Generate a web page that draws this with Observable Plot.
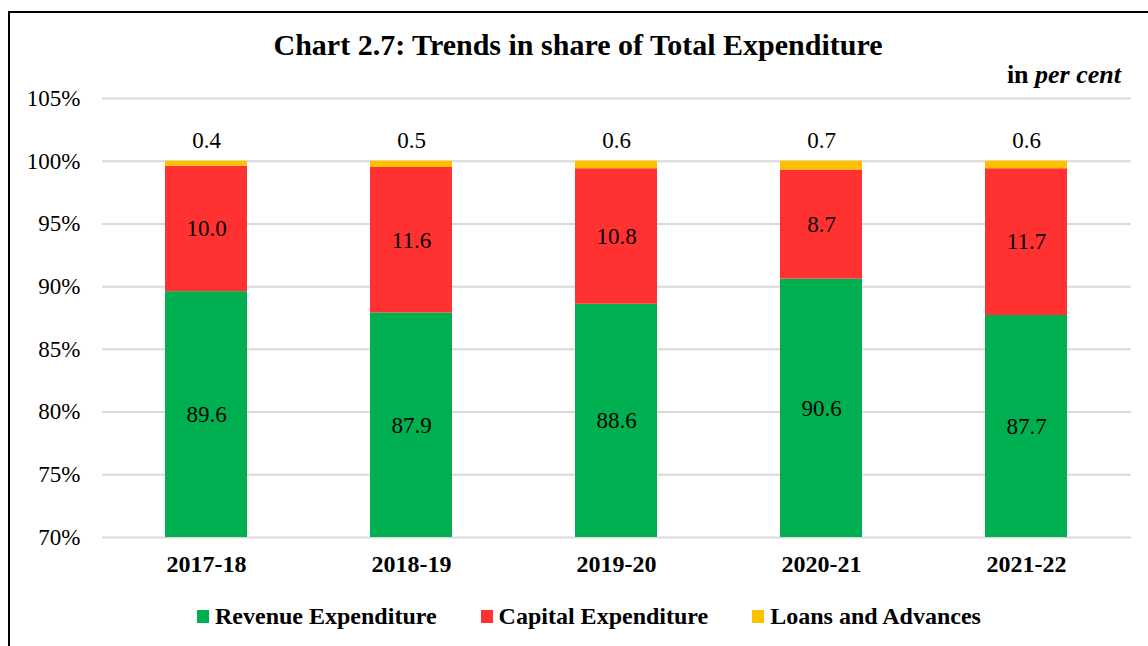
<!DOCTYPE html>
<html>
<head>
<meta charset="utf-8">
<script src="https://cdn.jsdelivr.net/npm/d3@7"></script>
<script src="https://cdn.jsdelivr.net/npm/@observablehq/plot@0.6"></script>
<style>
  html, body { margin: 0; padding: 0; background: #fff; }
  body { width: 1148px; height: 646px; overflow: hidden; position: relative; font-family: "Liberation Serif", "DejaVu Serif", serif; }
  #frame { position: absolute; left: 8px; top: 11px; width: 1200px; height: 700px; border-left: 2px solid #000; border-top: 2px solid #000; box-sizing: border-box; }
  #chart { position: absolute; left: 0; top: 68px; }
  #chart svg, #chart svg text { font-family: "Liberation Serif", "DejaVu Serif", serif !important; }
  #header { position: absolute; left: 0; top: 0; width: 1148px; height: 88px; z-index: 2; }
  #title { position: absolute; left: 0; width: 1156px; top: 28px; text-align: center; font-weight: bold; font-size: 30px; line-height: 34px; color: #000; }
  #unit { position: absolute; right: 27px; top: 60px; font-weight: bold; font-size: 26px; line-height: 30px; color: #000; }
  #legend { position: absolute; left: 0; top: 600px; width: 1148px; height: 32px; display: flex; justify-content: center; align-items: center; font-weight: bold; font-size: 24px; color: #000; padding-left: 30px; box-sizing: border-box; gap: 44px; }
  .item { display: flex; align-items: center; white-space: nowrap; }
  .sw { width: 12px; height: 13px; margin-right: 6px; display: inline-block; }
</style>
</head>
<body>
<div id="frame"></div>
<div id="chart"></div>
<div id="header">
  <div id="title">Chart 2.7: Trends in share of Total Expenditure</div>
  <div id="unit">in <i>per cent</i></div>
</div>
<div id="legend"></div>
<script>
const years = ["2017-18", "2018-19", "2019-20", "2020-21", "2021-22"];
const revenue = [89.6, 87.9, 88.6, 90.6, 87.7];
const capital = [10.0, 11.6, 10.8, 8.7, 11.7];
const loans = [0.4, 0.5, 0.6, 0.7, 0.6];
const seriesNames = ["Revenue Expenditure", "Capital Expenditure", "Loans and Advances"];
const seriesColors = ["#00b050", "#ff3131", "#ffc000"];
const yTicks = [70, 75, 80, 85, 90, 95, 100, 105];

const seriesValues = [revenue, capital, loans];
const rows = [];
years.forEach((yr, i) => {
  seriesNames.forEach((s, k) => rows.push({year: yr, series: s, value: seriesValues[k][i]}));
});

const revLabels = years.map((yr, i) => ({year: yr, pos: (70 + revenue[i]) / 2, text: revenue[i].toFixed(1)}));
const capLabels = years.map((yr, i) => ({year: yr, pos: revenue[i] + capital[i] / 2, text: capital[i].toFixed(1)}));
const loanLabels = years.map((yr, i) => ({year: yr, pos: revenue[i] + capital[i] + loans[i], text: loans[i].toFixed(1)}));

const font = "Liberation Serif";

const plot = Plot.plot({
  width: 1148,
  height: 514,
  marginLeft: 102,
  marginRight: 17,
  marginTop: 30,
  marginBottom: 45,
  style: {fontFamily: font, fontSize: "23px", color: "#000", background: "transparent"},
  x: {domain: years, paddingInner: 0.6, paddingOuter: 0.3, label: null},
  y: {domain: [70, 105], label: null},
  color: {domain: seriesNames, range: seriesColors},
  marks: [
    Plot.gridY(yTicks, {stroke: "#d9d9d9", strokeOpacity: 1, strokeWidth: 2}),
    Plot.barY(rows, Plot.stackY({x: "year", y: "value", fill: "series", clip: true, inset: 0})),
    Plot.axisY(yTicks, {tickSize: 0, tickPadding: 22, tickFormat: d => d + "%", fontSize: 23, fontFamily: font, fill: "#000"}),
    Plot.axisX(years, {tickSize: 0, tickPadding: 17, fontSize: 24, fontFamily: font, fontWeight: "bold", fill: "#000"}),
    Plot.text(revLabels, {x: "year", y: "pos", text: "text", fontSize: 23, fontFamily: font, fill: "#000"}),
    Plot.text(capLabels, {x: "year", y: "pos", text: "text", fontSize: 23, fontFamily: font, fill: "#000"}),
    Plot.text(loanLabels, {x: "year", y: "pos", text: "text", fontSize: 23, fontFamily: font, fill: "#000", dy: -21})
  ]
});
document.getElementById("chart").appendChild(plot);

const legend = document.getElementById("legend");
seriesNames.forEach((s, k) => {
  const item = document.createElement("div");
  item.className = "item";
  const sw = document.createElement("span");
  sw.className = "sw";
  sw.style.background = seriesColors[k];
  item.appendChild(sw);
  item.appendChild(document.createTextNode(s));
  legend.appendChild(item);
});
</script>
</body>
</html>
